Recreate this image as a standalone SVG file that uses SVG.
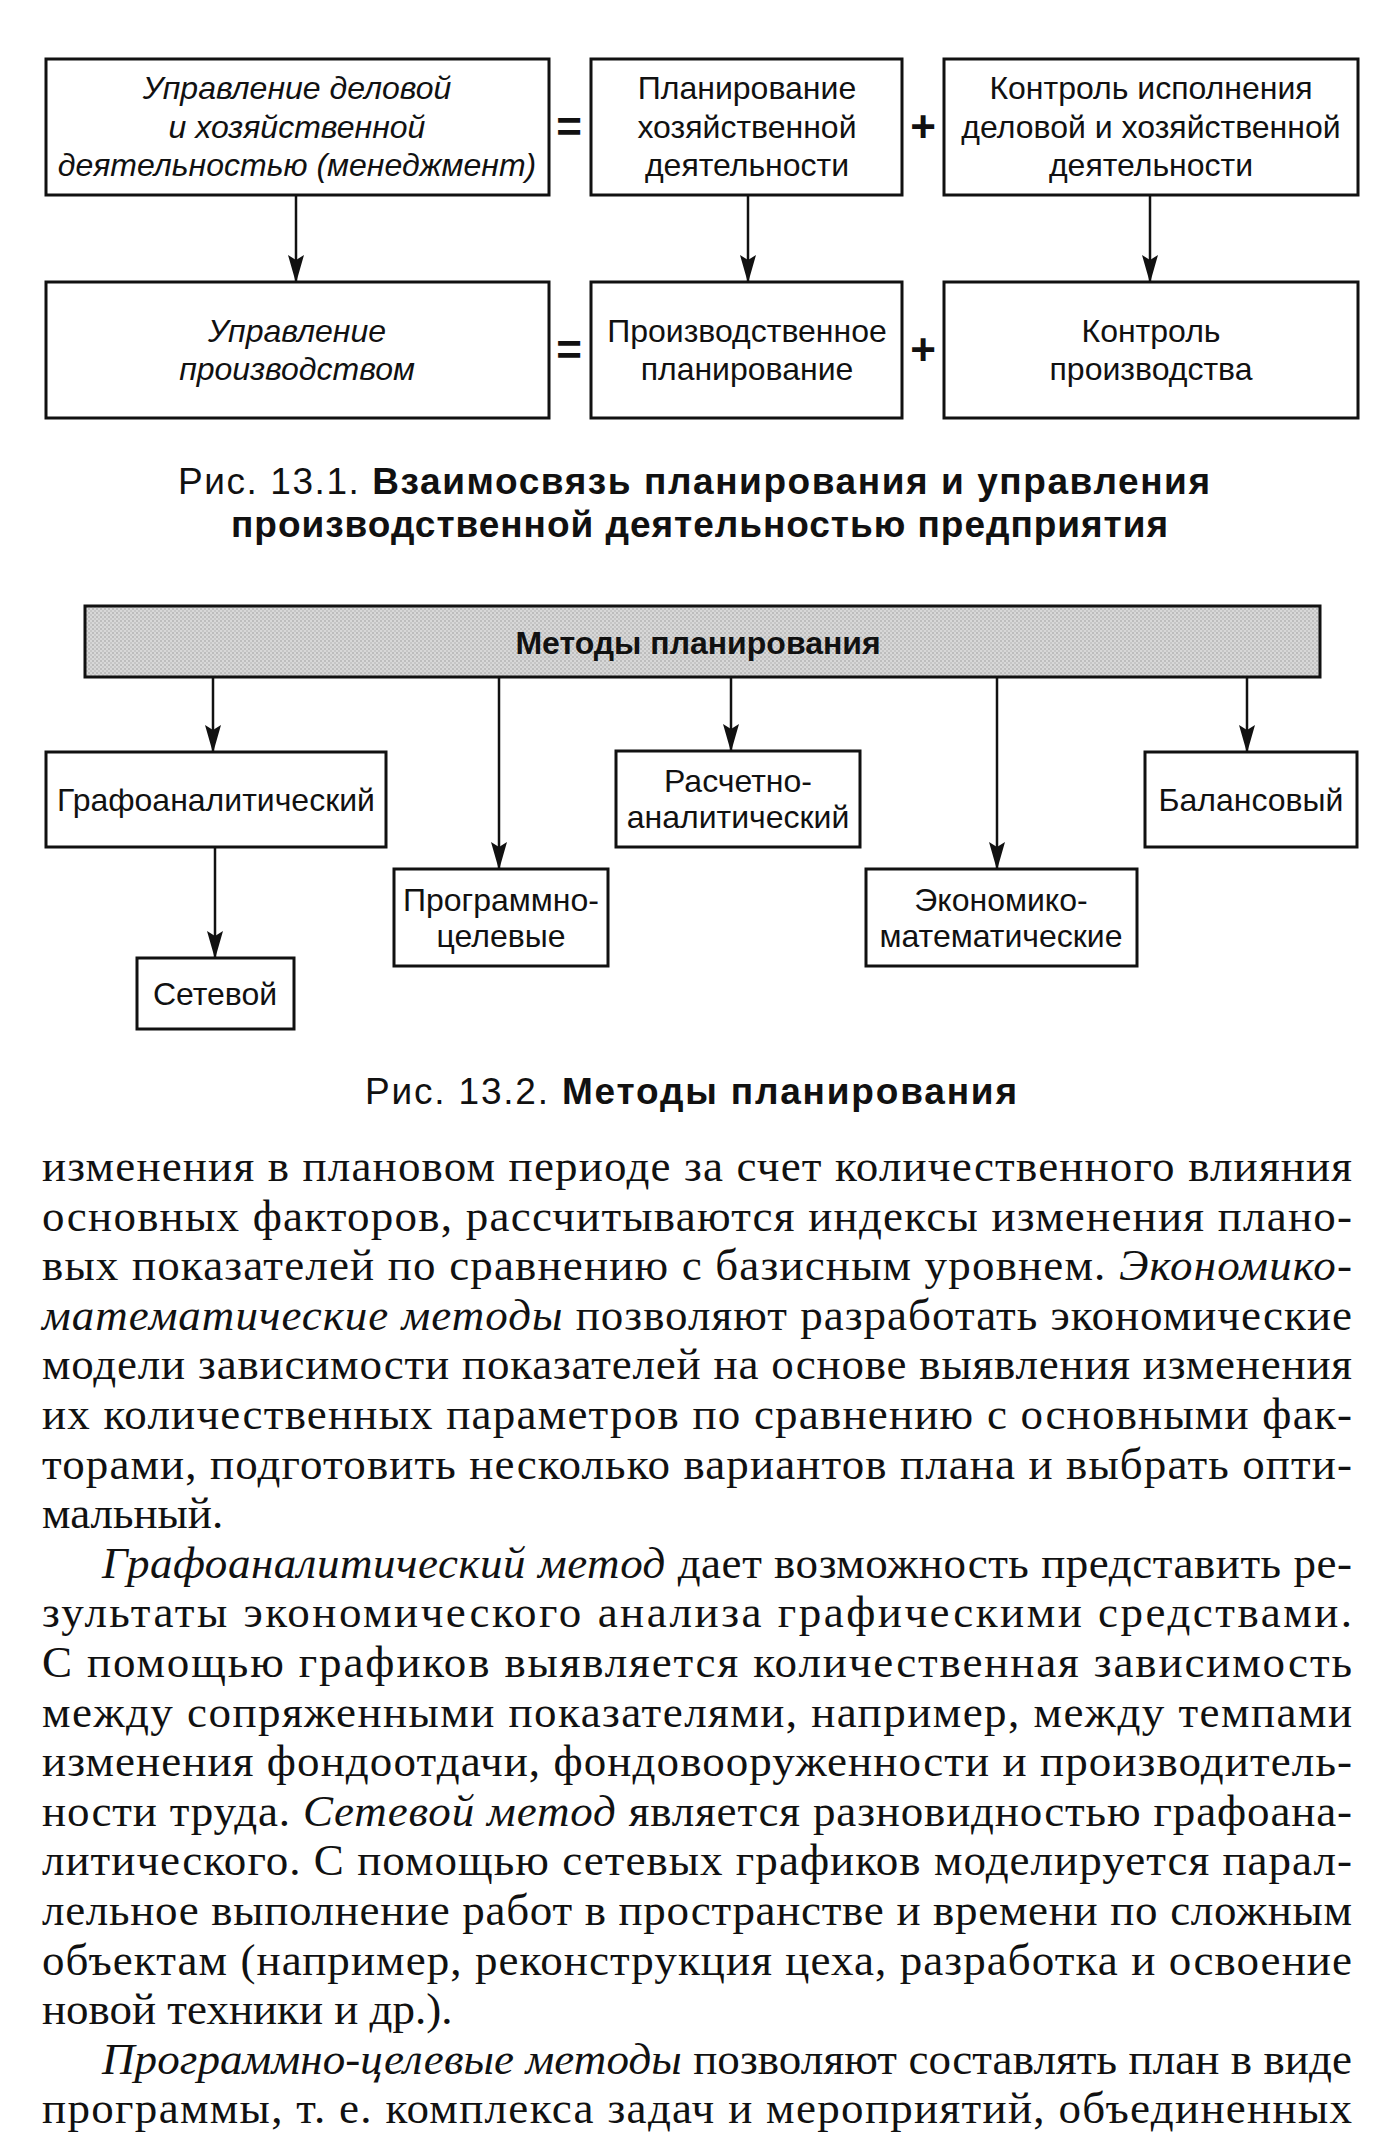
<svg xmlns="http://www.w3.org/2000/svg" width="1373" height="2147" viewBox="0 0 1373 2147">
<defs>
<marker id="arr" markerUnits="userSpaceOnUse" markerWidth="28" markerHeight="20" viewBox="0 0 28 20" refX="27" refY="10" orient="auto">
<path d="M0,2 L28,10 L0,18 L5,10 z" fill="#111"/>
</marker>
<pattern id="dots" width="4" height="4" patternUnits="userSpaceOnUse">
<rect width="4" height="4" fill="#d8d8d8"/>
<rect width="2" height="2" fill="#bdbdbd"/>
<rect x="2" y="2" width="2" height="2" fill="#c6c6c6"/>
</pattern>
</defs>
<style>
.box{fill:#fff;stroke:#111;stroke-width:3}
.hdr{fill:url(#dots);stroke:#111;stroke-width:3}
.t{font-family:"Liberation Sans",Arial,sans-serif;font-size:32px;fill:#111;text-anchor:middle}
.i{font-style:italic}
.sign{font-family:"Liberation Sans",Arial,sans-serif;font-size:44px;font-weight:bold;text-anchor:middle;fill:#111}
.con{stroke:#111;stroke-width:2.5;fill:none;marker-end:url(#arr)}
.cap{font-family:"Liberation Sans",Arial,sans-serif;font-size:37px;fill:#111}
.b{font-weight:bold}
.body{font-family:"Liberation Serif","Times New Roman",serif;font-size:45px;fill:#111}
</style>
<rect width="1373" height="2147" fill="#fff"/>

<!-- Figure 13.1 -->
<g id="n-mgmt"><rect class="box" x="46" y="59" width="503" height="136"/>
<text class="t i" x="297" y="99">Управление деловой</text>
<text class="t i" x="297" y="138">и хозяйственной</text>
<text class="t i" x="297" y="176">деятельностью (менеджмент)</text></g>
<g id="n-plan"><rect class="box" x="591" y="59" width="311" height="136"/>
<text class="t" x="747" y="99">Планирование</text>
<text class="t" x="747" y="138">хозяйственной</text>
<text class="t" x="747" y="176">деятельности</text></g>
<g id="n-ctrl"><rect class="box" x="944" y="59" width="414" height="136"/>
<text class="t" x="1151" y="99">Контроль исполнения</text>
<text class="t" x="1151" y="138">деловой и хозяйственной</text>
<text class="t" x="1151" y="176">деятельности</text></g>
<g id="n-prodmgmt"><rect class="box" x="46" y="282" width="503" height="136"/>
<text class="t i" x="297" y="342">Управление</text>
<text class="t i" x="297" y="380">производством</text></g>
<g id="n-prodplan"><rect class="box" x="591" y="282" width="311" height="136"/>
<text class="t" x="747" y="342">Производственное</text>
<text class="t" x="747" y="380">планирование</text></g>
<g id="n-prodctrl"><rect class="box" x="944" y="282" width="414" height="136"/>
<text class="t" x="1151" y="342">Контроль</text>
<text class="t" x="1151" y="380">производства</text></g>
<g id="signs">
<text class="sign" x="569" y="142">=</text>
<text class="sign" x="923" y="142">+</text>
<text class="sign" x="569" y="365">=</text>
<text class="sign" x="923" y="365">+</text>
</g>
<g id="connectors1">
<line class="con" x1="296" y1="195" x2="296" y2="282"/>
<line class="con" x1="748" y1="195" x2="748" y2="282"/>
<line class="con" x1="1150" y1="195" x2="1150" y2="282"/>
</g>
<g id="caption1">
<text class="cap" x="178" y="494" textLength="1032" lengthAdjust="spacing">Рис. 13.1. <tspan class="b">Взаимосвязь планирования и управления</tspan></text>
<text class="cap b" x="231" y="537" textLength="937" lengthAdjust="spacing">производственной деятельностью предприятия</text>
</g>

<!-- Figure 13.2 -->
<g id="n-methods"><rect class="hdr" x="85" y="606" width="1235" height="71"/>
<text class="t b" x="698" y="654" style="font-size:32px">Методы планирования</text></g>
<g id="n-graf"><rect class="box" x="46" y="752" width="340" height="95"/>
<text class="t" x="216" y="811">Графоаналитический</text></g>
<g id="n-prog"><rect class="box" x="394" y="869" width="214" height="97"/>
<text class="t" x="501" y="911">Программно-</text>
<text class="t" x="501" y="947">целевые</text></g>
<g id="n-rasch"><rect class="box" x="616" y="751" width="244" height="96"/>
<text class="t" x="738" y="792">Расчетно-</text>
<text class="t" x="738" y="828">аналитический</text></g>
<g id="n-econ"><rect class="box" x="866" y="869" width="271" height="97"/>
<text class="t" x="1001" y="911">Экономико-</text>
<text class="t" x="1001" y="947">математические</text></g>
<g id="n-bal"><rect class="box" x="1145" y="752" width="212" height="95"/>
<text class="t" x="1251" y="811">Балансовый</text></g>
<g id="n-set"><rect class="box" x="137" y="958" width="157" height="71"/>
<text class="t" x="215" y="1005">Сетевой</text></g>
<g id="connectors2">
<line class="con" x1="213" y1="677" x2="213" y2="752"/>
<line class="con" x1="499" y1="677" x2="499" y2="869"/>
<line class="con" x1="731" y1="677" x2="731" y2="751"/>
<line class="con" x1="997" y1="677" x2="997" y2="869"/>
<line class="con" x1="1247" y1="677" x2="1247" y2="752"/>
<line class="con" x1="215" y1="847" x2="215" y2="958"/>
</g>
<g id="caption2">
<text class="cap" x="365" y="1104" textLength="652" lengthAdjust="spacing">Рис. 13.2. <tspan class="b">Методы планирования</tspan></text>
</g>

<!-- Body text -->
<g id="bodytext">
<text class="body" x="42" y="1181" textLength="1310" lengthAdjust="spacing">изменения в плановом периоде за счет количественного влияния</text>
<text class="body" x="42" y="1230.6" textLength="1310" lengthAdjust="spacing">основных факторов, рассчитываются индексы изменения плано-</text>
<text class="body" x="42" y="1280.2" textLength="1310" lengthAdjust="spacing">вых показателей по сравнению с базисным уровнем. <tspan class="i">Экономико-</tspan></text>
<text class="body" x="42" y="1329.8" textLength="1310" lengthAdjust="spacing"><tspan class="i">математические методы</tspan> позволяют разработать экономические</text>
<text class="body" x="42" y="1379.4" textLength="1310" lengthAdjust="spacing">модели зависимости показателей на основе выявления изменения</text>
<text class="body" x="42" y="1429" textLength="1310" lengthAdjust="spacing">их количественных параметров по сравнению с основными фак-</text>
<text class="body" x="42" y="1478.6" textLength="1310" lengthAdjust="spacing">торами, подготовить несколько вариантов плана и выбрать опти-</text>
<text class="body" x="42" y="1528.2">мальный.</text>
<text class="body" x="102" y="1577.8" textLength="1250" lengthAdjust="spacing"><tspan class="i">Графоаналитический метод</tspan> дает возможность представить ре-</text>
<text class="body" x="42" y="1627.4" textLength="1310" lengthAdjust="spacing">зультаты экономического анализа графическими средствами.</text>
<text class="body" x="42" y="1677" textLength="1310" lengthAdjust="spacing">С помощью графиков выявляется количественная зависимость</text>
<text class="body" x="42" y="1726.6" textLength="1310" lengthAdjust="spacing">между сопряженными показателями, например, между темпами</text>
<text class="body" x="42" y="1776.2" textLength="1310" lengthAdjust="spacing">изменения фондоотдачи, фондовооруженности и производитель-</text>
<text class="body" x="42" y="1825.8" textLength="1310" lengthAdjust="spacing">ности труда. <tspan class="i">Сетевой метод</tspan> является разновидностью графоана-</text>
<text class="body" x="42" y="1875.4" textLength="1310" lengthAdjust="spacing">литического. С помощью сетевых графиков моделируется парал-</text>
<text class="body" x="42" y="1925" textLength="1310" lengthAdjust="spacing">лельное выполнение работ в пространстве и времени по сложным</text>
<text class="body" x="42" y="1974.6" textLength="1310" lengthAdjust="spacing">объектам (например, реконструкция цеха, разработка и освоение</text>
<text class="body" x="42" y="2024.2">новой техники и др.).</text>
<text class="body" x="102" y="2073.8" textLength="1250" lengthAdjust="spacing"><tspan class="i">Программно-целевые методы</tspan> позволяют составлять план в виде</text>
<text class="body" x="42" y="2123.4" textLength="1310" lengthAdjust="spacing">программы, т. е. комплекса задач и мероприятий, объединенных</text>
</g>
</svg>
